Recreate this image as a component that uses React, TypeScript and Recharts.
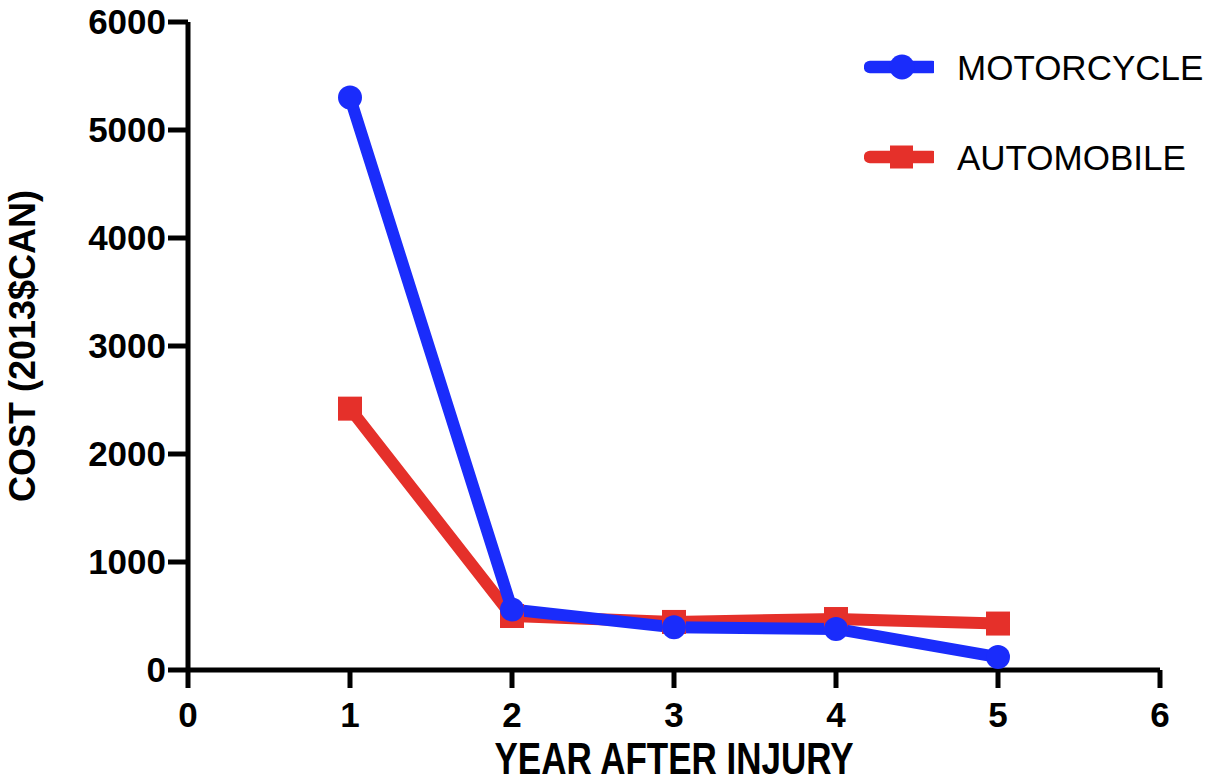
import React from "react";
import { LineChart, Line, XAxis, YAxis, Legend } from "recharts";

const years = [1, 2, 3, 4, 5];
const motorcycle = [5300, 560, 395, 380, 120];
const automobile = [2420, 500, 445, 472, 430];
const xTicks = [0, 1, 2, 3, 4, 5, 6];
const yTicks = [0, 1000, 2000, 3000, 4000, 5000, 6000];
const seriesOrder = ["MOTORCYCLE", "AUTOMOBILE"];

const BLUE = "#1a2cfb";
const RED = "#e5302a";
const FONT = '"Liberation Sans", Arial, Helvetica, sans-serif';

const data = years.map((year, i) => ({
  year,
  motorcycle: motorcycle[i],
  automobile: automobile[i],
}));

const axisStroke = { stroke: "#000", strokeWidth: 5 };
const tickStyle = { fill: "#000", fontSize: 35, fontWeight: "bold", fontFamily: FONT };

function SquareDot(props: any) {
  const { cx, cy } = props;
  if (cx == null || cy == null) return null;
  return <rect x={cx - 12} y={cy - 12} width={24} height={24} fill={RED} />;
}

function YTitle(props: any) {
  const vb = props.viewBox || { x: 0, y: 22, width: 188, height: 648 };
  const x = vb.x + 35;
  const y = vb.y + vb.height / 2;
  return (
    <text
      x={x}
      y={y}
      transform={`rotate(-90 ${x} ${y})`}
      textAnchor="middle"
      fill="#000"
      fontSize={36}
      fontWeight="bold"
      fontFamily={FONT}
    >
      COST (2013$CAN)
    </text>
  );
}

function XTitle(props: any) {
  const vb = props.viewBox || { x: 188, y: 670, width: 972, height: 114 };
  const x = vb.x + vb.width / 2;
  const y = vb.y + vb.height - 10;
  return (
    <text
      x={0}
      y={0}
      transform={`translate(${x} ${y}) scale(1 1.25)`}
      textAnchor="middle"
      fill="#000"
      fontSize={35}
      fontWeight="bold"
      fontFamily={FONT}
    >
      YEAR AFTER INJURY
    </text>
  );
}

function LegendContent(props: any) {
  const items = [...(props.payload || [])].sort(
    (a: any, b: any) => seriesOrder.indexOf(a.value) - seriesOrder.indexOf(b.value)
  );
  return (
    <div>
      {items.map((item: any) => (
        <div
          key={item.value}
          style={{ display: "flex", alignItems: "center", height: 90 }}
        >
          <svg width={70} height={30}>
            <line
              x1={6}
              y1={15}
              x2={68}
              y2={15}
              stroke={item.color}
              strokeWidth={12.5}
              strokeLinecap="round"
            />
            {item.value === "MOTORCYCLE" ? (
              <circle cx={38} cy={15} r={12.5} fill={item.color} />
            ) : (
              <rect x={26} y={3.5} width={23} height={23} fill={item.color} />
            )}
          </svg>
          <span
            style={{
              marginLeft: 23,
              fontSize: 35,
              fontFamily: FONT,
              color: "#000",
              lineHeight: 1,
            }}
          >
            {item.value}
          </span>
        </div>
      ))}
    </div>
  );
}

export default function App() {
  return (
    <div style={{ position: "absolute", left: 0, top: 0, background: "#fff" }}>
      <LineChart
        width={1215}
        height={784}
        data={data}
        margin={{ top: 22, right: 55, left: 0, bottom: 0 }}
      >
        <XAxis
          dataKey="year"
          type="number"
          domain={[0, 6]}
          ticks={xTicks}
          interval={0}
          height={114}
          tickSize={18}
          tickMargin={14}
          axisLine={axisStroke}
          tickLine={axisStroke}
          tick={tickStyle}
          label={<XTitle />}
        />
        <YAxis
          type="number"
          domain={[0, 6000]}
          ticks={yTicks}
          interval={0}
          width={188}
          tickSize={20}
          tickMargin={2}
          axisLine={axisStroke}
          tickLine={axisStroke}
          tick={tickStyle}
          label={<YTitle />}
        />
        <Legend
          layout="vertical"
          align="center"
          verticalAlign="middle"
          content={<LegendContent />}
          wrapperStyle={{ left: 864, top: 22, width: 351 }}
        />
        <Line
          type="linear"
          dataKey="automobile"
          name="AUTOMOBILE"
          stroke={RED}
          strokeWidth={12}
          strokeLinejoin="round"
          dot={<SquareDot />}
          activeDot={false}
          isAnimationActive={false}
        />
        <Line
          type="linear"
          dataKey="motorcycle"
          name="MOTORCYCLE"
          stroke={BLUE}
          strokeWidth={12}
          strokeLinejoin="round"
          dot={{ r: 12, fill: BLUE, stroke: BLUE, strokeWidth: 0 }}
          activeDot={false}
          isAnimationActive={false}
        />
      </LineChart>
    </div>
  );
}
